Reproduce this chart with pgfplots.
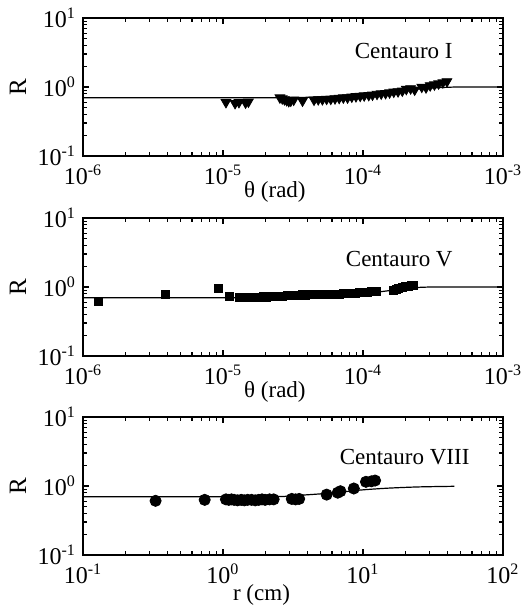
\documentclass[border=0pt]{standalone}
\usepackage{fontspec}
\setmainfont{Liberation Serif}
\usepackage{pgfplots}
\pgfplotsset{compat=1.18}
\begin{document}
\begin{tikzpicture}
\useasboundingbox (0,0) rectangle (264.5pt,303pt);

% ---------------- Centauro I ----------------
\begin{axis}[at={(41.5pt,225pt)}, anchor=south west,
    xmode=log, ymode=log, scale only axis, width=210pt, height=69pt,
    ymin=0.1, ymax=10, ytick={0.1,1,10},
    yticklabels={10\textsuperscript{-1},10\textsuperscript{0},10\textsuperscript{1}},
    tick align=inside, xtick pos=both, ytick pos=both,
    axis line style={line width=0.9pt},
    major tick style={line width=0.9pt, black},
    minor tick style={line width=0.6pt, black},
    major tick length=3.2pt, minor tick length=2pt,
    tick label style={font=\fontsize{12}{14}\selectfont},
    xticklabel style={yshift=-1pt},
    ylabel={R},
    ylabel style={font=\fontsize{12.5}{14}\selectfont, at={(axis description cs:-0.155,0.5)}, anchor=center},
    clip=false,
  xmin=1e-6, xmax=1e-3, xtick={1e-6,1e-5,1e-4,1e-3},
  xticklabels={10\textsuperscript{-6},10\textsuperscript{-5},10\textsuperscript{-4},10\textsuperscript{-3}},
  xlabel={θ (rad)},
  xlabel style={font=\fontsize{11.5}{13}\selectfont, at={(axis description cs:0.457,0)}, anchor=center, yshift=-18pt}]
\addplot[black, line width=0.6pt, no marks, smooth] coordinates {
 (1e-6,0.70) (2e-5,0.70) (3.5e-5,0.705) (5e-5,0.72) (7e-5,0.75) (1e-4,0.79)
 (1.5e-4,0.85) (2e-4,0.90) (3e-4,0.96) (4e-4,0.99) (5e-4,1.0) (1e-3,1.0)};
\addplot[only marks, mark=triangle*, mark size=2.8pt, mark options={rotate=180, fill=black, draw=black}] coordinates {
 (1.05e-5,0.60) (1.22e-5,0.58) (1.3e-5,0.60) (1.45e-5,0.59) (1.52e-5,0.61)
 (2.55e-5,0.70) (2.65e-5,0.68) (2.75e-5,0.66) (2.85e-5,0.64) (2.95e-5,0.62) (3.05e-5,0.63) (3.2e-5,0.65) (3.7e-5,0.63)
 (4.47e-5,0.65) (4.79e-5,0.66) (5.13e-5,0.66) (5.50e-5,0.67) (5.89e-5,0.67) (6.31e-5,0.68)
 (6.76e-5,0.69) (7.24e-5,0.70) (7.76e-5,0.70) (8.32e-5,0.72) (8.91e-5,0.73) (9.55e-5,0.74)
 (1.02e-4,0.75) (1.10e-4,0.76) (1.17e-4,0.77) (1.26e-4,0.79) (1.35e-4,0.80) (1.45e-4,0.81)
 (1.55e-4,0.83) (1.66e-4,0.85) (1.78e-4,0.86) (1.91e-4,0.88) (2.04e-4,0.93) (2.19e-4,0.95)
 (2.34e-4,0.91) (2.63e-4,1.00) (2.82e-4,0.98) (3.02e-4,1.05) (3.24e-4,1.08) (3.47e-4,1.12)
 (3.72e-4,1.16) (3.98e-4,1.20)};
\node[anchor=east, inner sep=0pt, font=\fontsize{11.5}{13}\selectfont] at (axis description cs:0.881,0.76) {Centauro I};
\end{axis}

% ---------------- Centauro V ----------------
\begin{axis}[at={(41.5pt,125pt)}, anchor=south west,
    xmode=log, ymode=log, scale only axis, width=210pt, height=69pt,
    ymin=0.1, ymax=10, ytick={0.1,1,10},
    yticklabels={10\textsuperscript{-1},10\textsuperscript{0},10\textsuperscript{1}},
    tick align=inside, xtick pos=both, ytick pos=both,
    axis line style={line width=0.9pt},
    major tick style={line width=0.9pt, black},
    minor tick style={line width=0.6pt, black},
    major tick length=3.2pt, minor tick length=2pt,
    tick label style={font=\fontsize{12}{14}\selectfont},
    xticklabel style={yshift=-1pt},
    ylabel={R},
    ylabel style={font=\fontsize{12.5}{14}\selectfont, at={(axis description cs:-0.155,0.5)}, anchor=center},
    clip=false,
  xmin=1e-6, xmax=1e-3, xtick={1e-6,1e-5,1e-4,1e-3},
  xticklabels={10\textsuperscript{-6},10\textsuperscript{-5},10\textsuperscript{-4},10\textsuperscript{-3}},
  xlabel={θ (rad)},
  xlabel style={font=\fontsize{11.5}{13}\selectfont, at={(axis description cs:0.457,0)}, anchor=center, yshift=-18pt}]
\addplot[black, line width=0.6pt, no marks, smooth] coordinates {
 (1e-6,0.70) (2.5e-5,0.70) (4e-5,0.72) (6e-5,0.75) (1e-4,0.80) (1.5e-4,0.88)
 (2e-4,0.95) (2.6e-4,0.99) (3.5e-4,1.0) (1e-3,1.0)};
\addplot[only marks, mark=square*, mark size=2pt, mark options={fill=black, draw=black}] coordinates {
 (1.28e-6,0.61) (3.9e-6,0.79) (9.2e-6,0.95) (1.12e-5,0.72)
 (1.3e-5,0.71) (1.38e-5,0.70) (1.45e-5,0.71) (1.52e-5,0.70) (1.6e-5,0.70) (1.68e-5,0.71) (1.75e-5,0.70)
 (1.95e-5,0.72) (2.05e-5,0.71) (2.15e-5,0.72) (2.5e-5,0.73) (2.65e-5,0.73)
 (2.9e-5,0.76) (3.1e-5,0.75) (3.3e-5,0.76) (3.5e-5,0.76) (3.7e-5,0.77) (3.9e-5,0.76)
 (4.1e-5,0.77) (4.4e-5,0.77) (4.7e-5,0.77) (5e-5,0.78) (5.3e-5,0.78) (5.6e-5,0.78)
 (6e-5,0.79) (6.4e-5,0.79) (6.8e-5,0.79) (7.2e-5,0.80) (7.7e-5,0.80) (8.2e-5,0.81)
 (8.8e-5,0.82) (9.4e-5,0.83) (1e-4,0.83) (1.07e-4,0.84) (1.15e-4,0.85) (1.25e-4,0.86)
 (1.65e-4,0.88) (1.72e-4,0.92) (1.8e-4,0.95) (1.9e-4,1.0) (2.0e-4,1.02) (2.1e-4,1.03)
 (2.2e-4,1.05) (2.3e-4,1.05)};
\node[anchor=east, inner sep=0pt, font=\fontsize{11.5}{13}\selectfont] at (axis description cs:0.881,0.70) {Centauro V};
\end{axis}

% ---------------- Centauro VIII ----------------
\begin{axis}[at={(41.5pt,25.5pt)}, anchor=south west,
    xmode=log, ymode=log, scale only axis, width=210pt, height=69pt,
    ymin=0.1, ymax=10, ytick={0.1,1,10},
    yticklabels={10\textsuperscript{-1},10\textsuperscript{0},10\textsuperscript{1}},
    tick align=inside, xtick pos=both, ytick pos=both,
    axis line style={line width=0.9pt},
    major tick style={line width=0.9pt, black},
    minor tick style={line width=0.6pt, black},
    major tick length=3.2pt, minor tick length=2pt,
    tick label style={font=\fontsize{12}{14}\selectfont},
    xticklabel style={yshift=-1pt},
    ylabel={R},
    ylabel style={font=\fontsize{12.5}{14}\selectfont, at={(axis description cs:-0.155,0.5)}, anchor=center},
    clip=false,
  xmin=0.1, xmax=100, xtick={0.1,1,10,100},
  xticklabels={10\textsuperscript{-1},10\textsuperscript{0},10\textsuperscript{1},10\textsuperscript{2}},
  xlabel={r (cm)},
  xlabel style={font=\fontsize{11.5}{13}\selectfont, at={(axis description cs:0.425,0)}, anchor=center, yshift=-19.8pt}]
\addplot[black, line width=0.6pt, no marks, smooth] coordinates {
 (0.1,0.70) (2,0.70) (3,0.72) (5,0.77) (8,0.84) (10,0.88) (15,0.93) (25,0.97) (45,0.99)};
\addplot[only marks, mark=*, mark size=2.8pt, mark options={fill=black, draw=black}] coordinates {
 (0.33,0.61) (0.74,0.63)
 (1.05,0.64) (1.1,0.63) (1.15,0.64) (1.2,0.63) (1.27,0.62) (1.35,0.63) (1.42,0.62)
 (1.5,0.63) (1.6,0.63) (1.7,0.62) (1.8,0.63) (1.9,0.64) (2.0,0.63) (2.15,0.64) (2.3,0.64)
 (3.1,0.65) (3.3,0.64) (3.5,0.65)
 (5.5,0.75) (6.6,0.80) (6.9,0.84) (8.6,0.92) (10.5,1.15) (11.5,1.17) (12.2,1.20)};
\node[anchor=east, inner sep=0pt, font=\fontsize{11.5}{13}\selectfont] at (axis description cs:0.921,0.71) {Centauro VIII};
\end{axis}
\end{tikzpicture}
\end{document}
